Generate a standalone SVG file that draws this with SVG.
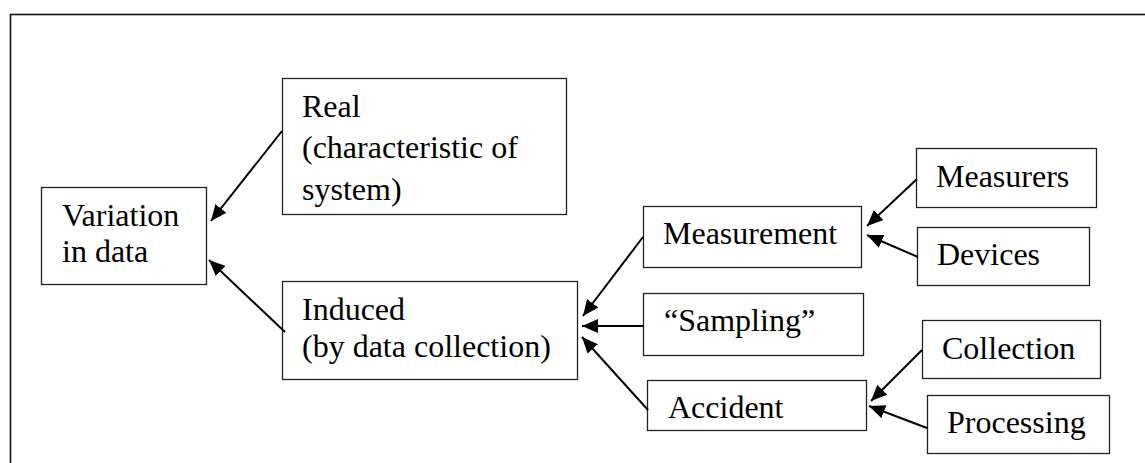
<svg xmlns="http://www.w3.org/2000/svg" width="1145" height="463" viewBox="0 0 1145 463">
<style>
.box{fill:#fff;stroke:#222;stroke-width:1.3}
text{font-family:'Liberation Serif','Times New Roman',Tinos,serif;font-size:32px;fill:#000}
</style>
<defs>
<marker id="ah" markerUnits="userSpaceOnUse" markerWidth="18" markerHeight="14" refX="16" refY="7" orient="auto">
<path d="M0,0 L16,7 L0,14 Z" fill="#000"/>
</marker>
</defs>
<rect x="10.5" y="14.5" width="1150" height="470" fill="none" stroke="#111" stroke-width="1.6"/>
<g id="variation"><rect class="box" x="41.5" y="187.5" width="165" height="97"/><text x="62" y="226">Variation</text><text x="62" y="262">in data</text></g>
<g id="real"><rect class="box" x="282.5" y="78.5" width="284" height="136"/><text x="302" y="117">Real</text><text x="302" y="158">(characteristic of</text><text x="302" y="200">system)</text></g>
<g id="induced"><rect class="box" x="282.5" y="281.5" width="295" height="98"/><text x="302" y="320">Induced</text><text x="302" y="357">(by data collection)</text></g>
<g id="measurement"><rect class="box" x="643.5" y="206.5" width="218" height="61"/><text x="663" y="244">Measurement</text></g>
<g id="sampling"><rect class="box" x="643.5" y="293.5" width="220" height="62"/><text x="664" y="331">&#8220;Sampling&#8221;</text></g>
<g id="accident"><rect class="box" x="647.5" y="380.5" width="219" height="50"/><text x="668" y="418">Accident</text></g>
<g id="measurers"><rect class="box" x="916.5" y="148.5" width="180" height="59"/><text x="936" y="187">Measurers</text></g>
<g id="devices"><rect class="box" x="917.5" y="227.5" width="172" height="58"/><text x="937" y="265">Devices</text></g>
<g id="collection"><rect class="box" x="922.5" y="320.5" width="178" height="58"/><text x="942" y="359">Collection</text></g>
<g id="processing"><rect class="box" x="927.5" y="395.5" width="182" height="58"/><text x="947" y="433">Processing</text></g>
<g id="connectors" stroke="#000" stroke-width="2">
<line x1="282" y1="131" x2="211" y2="221" marker-end="url(#ah)"/>
<line x1="285" y1="332" x2="209" y2="260" marker-end="url(#ah)"/>
<line x1="643" y1="237" x2="583" y2="316" marker-end="url(#ah)"/>
<line x1="643" y1="326" x2="582" y2="326" marker-end="url(#ah)"/>
<line x1="648" y1="410" x2="582" y2="337" marker-end="url(#ah)"/>
<line x1="917" y1="179" x2="867" y2="226" marker-end="url(#ah)"/>
<line x1="918" y1="257" x2="867" y2="235" marker-end="url(#ah)"/>
<line x1="922" y1="350" x2="871" y2="401" marker-end="url(#ah)"/>
<line x1="927" y1="428" x2="869" y2="406" marker-end="url(#ah)"/>
</g>
</svg>
